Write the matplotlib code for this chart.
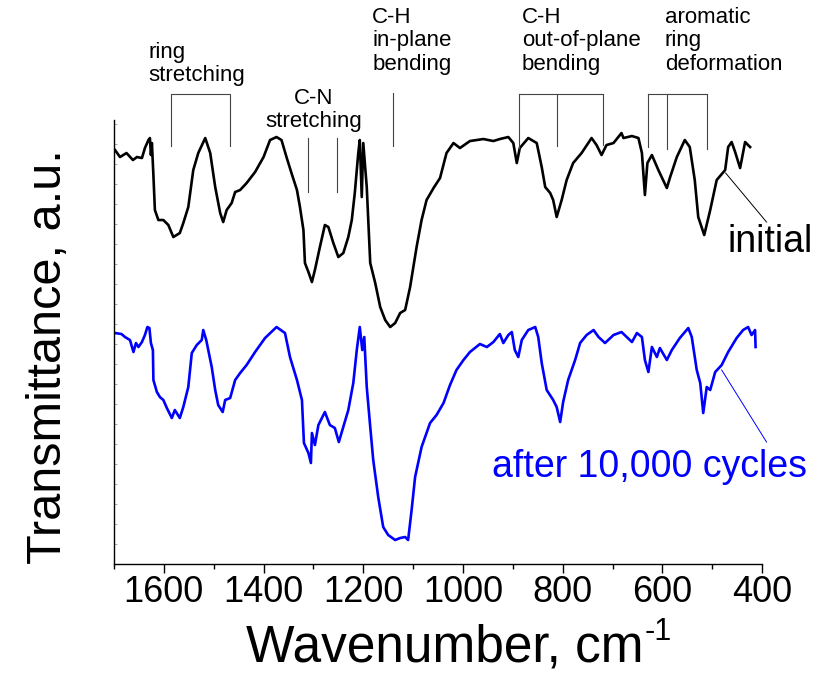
import numpy as np
import matplotlib
matplotlib.use('Agg')
import matplotlib.pyplot as plt
from matplotlib.ticker import MultipleLocator

plt.rcParams['font.family'] = ['Liberation Sans', 'DejaVu Sans']

# FTIR spectra (transmittance in arbitrary units)
wn_initial = [1698, 1688, 1675, 1662, 1654, 1644, 1638, 1631, 1628, 1626, 1624, 1621, 1618,
              1611, 1601, 1591, 1581, 1568, 1561, 1551, 1541, 1531, 1517, 1507, 1497, 1487,
              1481, 1474, 1464, 1457, 1447, 1434, 1417, 1400, 1387, 1374, 1364, 1354, 1344,
              1333, 1327, 1320, 1317, 1310, 1303, 1297, 1287, 1277, 1270, 1260, 1250, 1240,
              1230, 1223, 1217, 1210, 1207, 1203, 1200, 1193, 1186, 1176, 1166, 1156, 1146,
              1136, 1126, 1116, 1106, 1093, 1083, 1073, 1059, 1046, 1033, 1019, 1006, 986,
              959, 939, 926, 909, 899, 892, 886, 869, 852, 842, 835, 825, 819, 812, 802, 792,
              779, 762, 742, 732, 722, 712, 698, 682, 678, 661, 648, 641, 635, 630, 621, 608,
              591, 585, 571, 555, 545, 535, 528, 516, 504, 491, 474, 468, 461, 454, 444, 434, 424]
t_initial = [414, 407, 411, 404, 407, 406, 416, 424, 426, 409, 421, 389, 354,
             344, 344, 339, 327, 331, 341, 357, 394, 411, 426, 411, 377, 351,
             342, 354, 361, 372, 374, 381, 392, 407, 424, 427, 424, 407, 391,
             374, 357, 334, 301, 292, 282, 294, 317, 339, 337, 321, 307, 311,
             327, 344, 371, 411, 424, 367, 421, 377, 301, 281, 257, 244, 237,
             241, 251, 254, 277, 317, 344, 364, 376, 386, 411, 421, 416, 423,
             425, 423, 425, 427, 421, 401, 416, 426, 421, 397, 377, 371, 364, 347, 364, 384,
             401, 411, 426, 419, 409, 419, 421, 431, 426, 428, 426, 411, 369, 401, 409, 394,
             376, 386, 407, 424, 417, 384, 347, 329, 354, 384, 394, 417, 422, 412, 396, 422, 417]

wn_cycled = [1698, 1685, 1678, 1668, 1661, 1656, 1651, 1644, 1638, 1633, 1629, 1626, 1622,
             1621, 1614, 1608, 1601, 1594, 1584, 1578, 1568, 1561, 1551, 1544, 1534, 1524,
             1521, 1515, 1504, 1497, 1491, 1482, 1477, 1467, 1457, 1447, 1434, 1417, 1397,
             1374, 1357, 1347, 1333, 1323, 1319, 1310, 1305, 1303, 1297, 1290, 1277, 1267,
             1257, 1249, 1240, 1230, 1220, 1213, 1207, 1202, 1198, 1193, 1186, 1180, 1170,
             1160, 1150, 1136, 1126, 1116, 1110, 1103, 1096, 1083, 1066, 1053, 1039, 1026,
             1013, 999, 986, 966, 952, 939, 926, 919, 909, 902, 896, 889, 882, 869, 855, 849,
             842, 832, 819, 812, 805, 799, 789, 775, 765, 752, 738, 728, 715, 698, 682, 661,
             651, 641, 635, 628, 621, 611, 605, 591, 581, 565, 548, 541, 531, 524, 518, 511,
             504, 494, 481, 468, 451, 438, 428, 421, 414, 413]
t_cycled = [231, 230, 227, 224, 212, 221, 217, 222, 229, 237, 236, 221, 214,
            184, 172, 167, 164, 156, 146, 154, 146, 157, 177, 211, 219, 224,
            234, 224, 197, 174, 159, 152, 164, 166, 184, 191, 199, 212, 226,
            237, 231, 207, 184, 164, 121, 111, 101, 131, 119, 139, 152, 139,
            136, 122, 137, 154, 181, 214, 237, 214, 227, 177, 137, 104, 67,
            37, 29, 24, 26, 27, 24, 54, 87, 117, 141, 149, 161, 179,
            194, 204, 212, 220, 217, 222, 230, 221, 229, 232, 214, 207, 224, 234, 237, 227,
            201, 174, 164, 157, 142, 162, 184, 204, 221, 229, 234, 227, 221, 229, 232, 222,
            231, 227, 204, 192, 217, 207, 216, 204, 214, 226, 236, 227, 194, 181, 151, 177,
            174, 192, 199, 212, 226, 234, 237, 229, 234, 217]

# band positions (cm-1) for the assignments drawn above the spectra
ring_str = [1586, 1467]
cn_str = [1310, 1253]
ch_in = [1141]
ch_out = [887, 811, 719]
arom = [629, 590, 510]

fig = plt.figure(figsize=(8.25, 6.77), dpi=100)
ax = fig.add_axes([0.1382, 0.1669, 0.7855, 0.6558])

ax.plot(wn_initial, t_initial, color='black', lw=1.9)
ax.plot(wn_cycled, t_cycled, color='#0000ff', lw=1.9)

ax.set_xlim(1700, 400)
ax.set_ylim(0, 444)

# axes styling
for s in ['top', 'right']:
    ax.spines[s].set_visible(False)
for s in ['left', 'bottom']:
    ax.spines[s].set_linewidth(1.0)
ax.xaxis.set_major_locator(MultipleLocator(200))
ax.xaxis.set_minor_locator(MultipleLocator(100))
ax.tick_params(axis='x', which='major', direction='out', length=6.7, width=1.0,
               labelsize=26, pad=1.5)
ax.tick_params(axis='x', which='minor', direction='out', length=3.5, width=1.0)
ax.yaxis.set_major_locator(MultipleLocator(20))
ax.tick_params(axis='y', which='major', direction='in', length=2, width=0.6,
               color='#999999', labelleft=False)

ax.set_xlabel('Wavenumber, cm', fontsize=37, va='top')
ax.xaxis.set_label_coords(0.510, -0.133)
ax.text(0.8194, -0.171, '-1', fontsize=22, ha='left', va='baseline', transform=ax.transAxes)
ax.set_ylabel('Transmittance, a.u.', fontsize=35)
ax.yaxis.set_label_coords(-0.066, 0.468)

# band marker lines above the spectra
lc = '#444444'
lw = 0.8
ax.plot([ring_str[0], ring_str[0], ring_str[1], ring_str[1]], [418, 470, 470, 418],
        color=lc, lw=lw, clip_on=False)
for b in cn_str:
    ax.plot([b, b], [372, 426], color=lc, lw=lw)
ax.plot([ch_in[0], ch_in[0]], [418, 471], color=lc, lw=lw, clip_on=False)
ax.plot([ch_out[0], ch_out[-1]], [470, 470], color=lc, lw=lw, clip_on=False)
for b, y0 in zip(ch_out, [416, 418, 419]):
    ax.plot([b, b], [y0, 470], color=lc, lw=lw, clip_on=False)
ax.plot([arom[0], arom[-1]], [470, 470], color=lc, lw=lw, clip_on=False)
for b, y0 in zip(arom, [417, 415, 415]):
    ax.plot([b, b], [y0, 470], color=lc, lw=lw, clip_on=False)

fs = 16
ax.text(1631, 522, 'ring\nstretching', fontsize=fs, va='top', ha='left', linespacing=1.15)
ax.text(1300, 476, 'C-N\nstretching', fontsize=fs, va='top', ha='center',
        multialignment='center', linespacing=1.15)
ax.text(1182, 557, 'C-H\nin-plane\nbending', fontsize=fs, va='top', ha='left', linespacing=1.15)
ax.text(882, 557, 'C-H\nout-of-plane\nbending', fontsize=fs, va='top', ha='left', linespacing=1.15)
ax.text(595, 557, 'aromatic\nring\ndeformation', fontsize=fs, va='top', ha='left', linespacing=1.15)

# curve labels with leader lines
ax.plot([473, 391], [391, 342], color='black', lw=0.7, clip_on=False)
ax.text(470, 312, 'initial', fontsize=27, ha='left', va='baseline')
ax.plot([481, 391], [194, 122], color='#0000ff', lw=0.7, clip_on=False)
ax.text(942, 87, 'after 10,000 cycles', fontsize=27, ha='left', va='baseline', color='#0000ff')

plt.savefig('out.png', dpi=100)
